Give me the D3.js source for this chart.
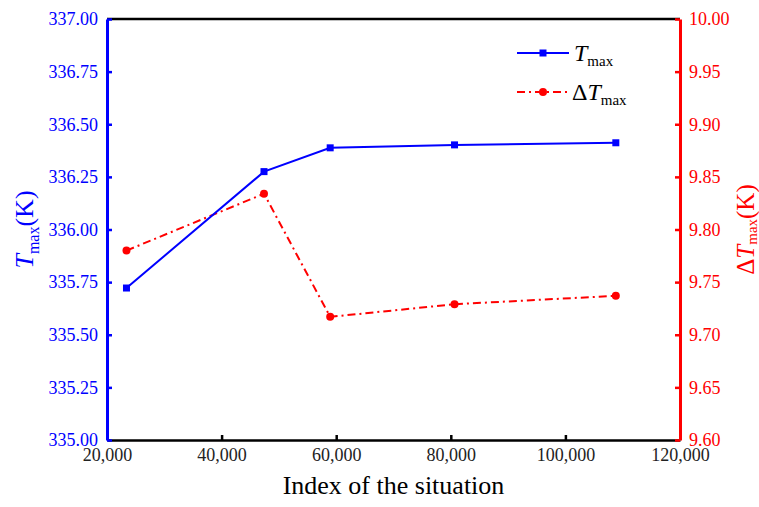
<!DOCTYPE html>
<html>
<head>
<meta charset="utf-8">
<script src="https://cdn.jsdelivr.net/npm/d3@7"></script>
<style>
  html, body { margin: 0; padding: 0; background: #fff; }
  svg { display: block; font-family: "Liberation Serif", "Times New Roman", serif; }
  svg text { font-family: "Liberation Serif", "Times New Roman", serif; }
</style>
</head>
<body>
<svg id="chart" width="759" height="507"></svg>
<script>
// Situation index (x) and the two response series
const situations = [23400, 47400, 58950, 80650, 108800];
const tMax = [335.722, 336.275, 336.388, 336.402, 336.412];
const deltaTMax = [9.780, 9.834, 9.717, 9.729, 9.737];

const xTicks = [20000, 40000, 60000, 80000, 100000, 120000];
const leftTicks = [335.00, 335.25, 335.50, 335.75, 336.00, 336.25, 336.50, 336.75, 337.00];
const rightTicks = [9.60, 9.65, 9.70, 9.75, 9.80, 9.85, 9.90, 9.95, 10.00];

const BLUE = "#0000ff";
const RED = "#ff0000";
const SERIF = '"Liberation Serif", "Times New Roman", serif';

const svg = d3.select("#chart");
const margin = { left: 107, right: 79, top: 19, bottom: 67 };
const W = 759, H = 507;
const x0 = margin.left, x1 = W - margin.right;
const y0 = H - margin.bottom, y1 = margin.top;

const x = d3.scaleLinear().domain([20000, 120000]).range([x0, x1]);
const yL = d3.scaleLinear().domain([335, 337]).range([y0, y1]);
const yR = d3.scaleLinear().domain([9.6, 10.0]).range([y0, y1]);

const fmtX = d3.format(",");
const fmt2 = d3.format(".2f");

function styleAxis(g, color, lineW) {
  g.attr("font-family", null).attr("font-size", null);
  g.select(".domain").attr("stroke", color).attr("stroke-width", lineW);
  g.selectAll(".tick line").attr("stroke", color).attr("stroke-width", 2.5);
  g.selectAll(".tick text")
    .attr("fill", color === "#000" ? "#222" : color)
    .style("font-family", SERIF)
    .style("font-size", "18px");
}

// Bottom axis (ticks pointing inward)
const gx = svg.append("g")
  .attr("transform", `translate(0,${y0})`)
  .call(d3.axisBottom(x).tickValues(xTicks).tickFormat(fmtX).tickSize(-5).tickSizeOuter(0).tickPadding(8));
styleAxis(gx, "#000", 2.5);

// Top frame line
svg.append("line").attr("x1", x0).attr("x2", x1).attr("y1", y1).attr("y2", y1)
  .attr("stroke", "#000").attr("stroke-width", 2.5);

// Left axis (T_max)
const gl = svg.append("g")
  .attr("transform", `translate(${x0},0)`)
  .call(d3.axisLeft(yL).tickValues(leftTicks).tickFormat(fmt2).tickSize(-5).tickSizeOuter(0).tickPadding(9));
styleAxis(gl, BLUE, 3);

// Right axis (ΔT_max)
const gr = svg.append("g")
  .attr("transform", `translate(${x1},0)`)
  .call(d3.axisRight(yR).tickValues(rightTicks).tickFormat(fmt2).tickSize(-5).tickSizeOuter(0).tickPadding(9));
styleAxis(gr, RED, 3);

// Data
const tData = situations.map((s, i) => ({ s, v: tMax[i] }));
const dData = situations.map((s, i) => ({ s, v: deltaTMax[i] }));

svg.append("path").datum(dData)
  .attr("fill", "none").attr("stroke", RED).attr("stroke-width", 2)
  .attr("stroke-dasharray", "8,4,2,4")
  .attr("d", d3.line().x(d => x(d.s)).y(d => yR(d.v)));
svg.selectAll("circle.dt").data(dData).enter().append("circle")
  .attr("class", "dt").attr("cx", d => x(d.s)).attr("cy", d => yR(d.v))
  .attr("r", 4).attr("fill", RED);

svg.append("path").datum(tData)
  .attr("fill", "none").attr("stroke", BLUE).attr("stroke-width", 2)
  .attr("d", d3.line().x(d => x(d.s)).y(d => yL(d.v)));
svg.selectAll("rect.t").data(tData).enter().append("rect")
  .attr("class", "t").attr("x", d => x(d.s) - 3.5).attr("y", d => yL(d.v) - 3.5)
  .attr("width", 7).attr("height", 7).attr("fill", BLUE);

// Legend
const leg = svg.append("g");
leg.append("line").attr("x1", 517).attr("x2", 569).attr("y1", 53).attr("y2", 53)
  .attr("stroke", BLUE).attr("stroke-width", 2);
leg.append("rect").attr("x", 539.5).attr("y", 49.5).attr("width", 7).attr("height", 7).attr("fill", BLUE);
const lt1 = leg.append("text").attr("x", 574).attr("y", 61).attr("fill", "#000").attr("font-size", 24);
lt1.append("tspan").attr("font-style", "italic").text("T");
lt1.append("tspan").attr("font-size", 15).attr("dy", 5).text("max");

leg.append("line").attr("x1", 517).attr("x2", 569).attr("y1", 92).attr("y2", 92)
  .attr("stroke", RED).attr("stroke-width", 2).attr("stroke-dasharray", "8,4,2,4");
leg.append("circle").attr("cx", 543).attr("cy", 92).attr("r", 4).attr("fill", RED);
const lt2 = leg.append("text").attr("x", 572).attr("y", 100).attr("fill", "#000").attr("font-size", 24);
lt2.append("tspan").text("Δ");
lt2.append("tspan").attr("font-style", "italic").text("T");
lt2.append("tspan").attr("font-size", 15).attr("dy", 5).text("max");

// Axis titles
svg.append("text").attr("x", (x0 + x1) / 2).attr("y", 494).attr("text-anchor", "middle")
  .attr("font-size", 26).attr("fill", "#000").text("Index of the situation");

const yt = svg.append("text").attr("transform", `translate(33,${(y0 + y1) / 2}) rotate(-90)`)
  .attr("text-anchor", "middle").attr("fill", BLUE).attr("font-size", 26);
yt.append("tspan").attr("font-style", "italic").text("T");
yt.append("tspan").attr("font-size", 16).attr("dy", 6).text("max");
yt.append("tspan").attr("dy", -6).text("(K)");

const yt2 = svg.append("text").attr("transform", `translate(754,${(y0 + y1) / 2}) rotate(-90)`)
  .attr("text-anchor", "middle").attr("fill", RED).attr("font-size", 25);
yt2.append("tspan").text("Δ");
yt2.append("tspan").attr("font-style", "italic").text("T");
yt2.append("tspan").attr("font-size", 15).attr("dy", 3).text("max");
yt2.append("tspan").attr("dy", -3).text("(K)");
</script>
</body>
</html>
